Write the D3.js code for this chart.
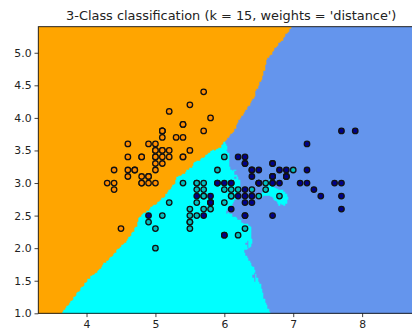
<!DOCTYPE html>
<html><head><meta charset="utf-8">
<script src="https://cdn.jsdelivr.net/npm/d3@7"></script>
<style>html,body{margin:0;padding:0;background:#fff;overflow:hidden}</style>
</head><body>
<script>
// Iris dataset, first two features (sepal length, sepal width) and class
const sepalLength = [5.1,4.9,4.7,4.6,5.0,5.4,4.6,5.0,4.4,4.9,5.4,4.8,4.8,4.3,5.8,5.7,5.4,5.1,5.7,5.1,5.4,5.1,4.6,5.1,4.8,5.0,5.0,5.2,5.2,4.7,4.8,5.4,5.2,5.5,4.9,5.0,5.5,4.9,4.4,5.1,5.0,4.5,4.4,5.0,5.1,4.8,5.1,4.6,5.3,5.0,
7.0,6.4,6.9,5.5,6.5,5.7,6.3,4.9,6.6,5.2,5.0,5.9,6.0,6.1,5.6,6.7,5.6,5.8,6.2,5.6,5.9,6.1,6.3,6.1,6.4,6.6,6.8,6.7,6.0,5.7,5.5,5.5,5.8,6.0,5.4,6.0,6.7,6.3,5.6,5.5,5.5,6.1,5.8,5.0,5.6,5.7,5.7,6.2,5.1,5.7,
6.3,5.8,7.1,6.3,6.5,7.6,4.9,7.3,6.7,7.2,6.5,6.4,6.8,5.7,5.8,6.4,6.5,7.7,7.7,6.0,6.9,5.6,7.7,6.3,6.7,7.2,6.2,6.1,6.4,7.2,7.4,7.9,6.4,6.3,6.1,7.7,6.3,6.4,6.0,6.9,6.7,6.9,5.8,6.8,6.7,6.7,6.3,6.5,6.2,5.9];
const sepalWidth = [3.5,3.0,3.2,3.1,3.6,3.9,3.4,3.4,2.9,3.1,3.7,3.4,3.0,3.0,4.0,4.4,3.9,3.5,3.8,3.8,3.4,3.7,3.6,3.3,3.4,3.0,3.4,3.5,3.4,3.2,3.1,3.4,4.1,4.2,3.1,3.2,3.5,3.6,3.0,3.4,3.5,2.3,3.2,3.5,3.8,3.0,3.8,3.2,3.7,3.3,
3.2,3.2,3.1,2.3,2.8,2.8,3.3,2.4,2.9,2.7,2.0,3.0,2.2,2.9,2.9,3.1,3.0,2.7,2.2,2.5,3.2,2.8,2.5,2.8,2.9,3.0,2.8,3.0,2.9,2.6,2.4,2.4,2.7,2.7,3.0,3.4,3.1,2.3,3.0,2.5,2.6,3.0,2.6,2.3,2.7,3.0,2.9,2.9,2.5,2.8,
3.3,2.7,3.0,2.9,3.0,3.0,2.5,2.9,2.5,3.6,3.2,2.7,3.0,2.5,2.8,3.2,3.0,3.8,2.6,2.2,3.2,2.8,2.8,2.7,3.3,3.2,2.8,3.0,2.8,3.0,2.8,3.8,2.8,2.8,2.6,3.0,3.4,3.1,3.0,3.1,3.1,3.1,2.7,3.2,3.3,3.0,2.5,3.0,3.4,3.0];
const species = [].concat(Array(50).fill(0), Array(50).fill(1), Array(50).fill(2));
const xTicks = [4,5,6,7,8];
const yTicks = [1.0,1.5,2.0,2.5,3.0,3.5,4.0,4.5,5.0];
const nNeighbors = 15;
const meshStep = 0.02;
const lightColors = ["#FFA500","#00FFFF","#6495ED"];  // orange, cyan, cornflowerblue
const boldColors = ["#FF8C00","#00BFBF","#00008B"];   // darkorange, c, darkblue
const titleText = "3-Class classification (k = 15, weights = 'distance')";

(function () {
const W = 412, H = 334;
const xMin = d3.min(sepalLength) - 1, xMax = d3.max(sepalLength) + 1;
const yMin = d3.min(sepalWidth) - 1, yMax = d3.max(sepalWidth) + 1;
const mLeft = 38.3, mTop = 26.7, mBottom = 313.3;
const pxPerUnit = 68.9;
const mRight = mLeft + (xMax - xMin) * pxPerUnit;

const x = d3.scaleLinear().domain([xMin, xMax]).range([mLeft, mRight]);
const y = d3.scaleLinear().domain([yMin, yMax]).range([mBottom, mTop]);

// KNN (distance weighted) prediction
function predict(px, py) {
  const d = sepalLength.map((v, i) => [Math.hypot(v - px, sepalWidth[i] - py), i]);
  d.sort((a, b) => a[0] - b[0] || a[1] - b[1]);
  const nn = d.slice(0, nNeighbors);
  const votes = [0,0,0];
  if (nn.some(e => e[0] === 0)) {
    nn.forEach(e => { if (e[0] === 0) votes[species[e[1]]] += 1; });
  } else {
    nn.forEach(e => { votes[species[e[1]]] += 1 / e[0]; });
  }
  let best = 0;
  for (let c = 1; c < 3; c++) if (votes[c] > votes[best]) best = c;
  return best;
}

const nx = Math.round((xMax - xMin) / meshStep), ny = Math.round((yMax - yMin) / meshStep);
const grid = new Int8Array(nx * ny).fill(-1);
function cls(ix, iy) {
  ix = Math.max(0, Math.min(nx - 1, ix)); iy = Math.max(0, Math.min(ny - 1, iy));
  const k = iy * nx + ix;
  if (grid[k] < 0) grid[k] = predict(xMin + ix * meshStep, yMin + iy * meshStep);
  return grid[k];
}

const plotW = Math.ceil(Math.min(mRight, W) - mLeft), plotH = Math.ceil(mBottom - mTop);
const canvas = document.createElement("canvas");
canvas.width = plotW; canvas.height = plotH;
const ctx = canvas.getContext("2d");
const img = ctx.createImageData(plotW, plotH);
const rgb = lightColors.map(c => d3.rgb(c));
for (let j = 0; j < plotH; j++) {
  const dy = y.invert(mTop + j + 0.5);
  const iy = Math.round((dy - yMin) / meshStep);
  for (let i = 0; i < plotW; i++) {
    const dx = x.invert(mLeft + i + 0.5);
    const ix = Math.round((dx - xMin) / meshStep);
    const c = rgb[cls(ix, iy)];
    const o = (j * plotW + i) * 4;
    img.data[o] = c.r; img.data[o+1] = c.g; img.data[o+2] = c.b; img.data[o+3] = 255;
  }
}
ctx.putImageData(img, 0, 0);

const svg = d3.select("body").append("svg").attr("width", W).attr("height", H)
  .style("font-family", "DejaVu Sans, sans-serif");

svg.append("image").attr("x", mLeft).attr("y", mTop).attr("width", plotW).attr("height", plotH)
  .attr("preserveAspectRatio", "none").attr("href", canvas.toDataURL());

svg.append("clipPath").attr("id", "clip").append("rect")
  .attr("x", mLeft).attr("y", mTop).attr("width", mRight - mLeft).attr("height", mBottom - mTop);

svg.append("g").attr("clip-path", "url(#clip)").selectAll("circle")
  .data(species.map((s, i) => i)).join("circle")
  .attr("cx", i => x(sepalLength[i])).attr("cy", i => y(sepalWidth[i])).attr("r", 2.75)
  .attr("fill", i => boldColors[species[i]]).attr("stroke", "#111").attr("stroke-width", 1.3);

const xAxis = svg.append("g").attr("transform", `translate(0,${mBottom})`)
  .call(d3.axisBottom(x).tickValues(xTicks).tickFormat(d3.format("d")).tickSize(3.8).tickPadding(3));
const yAxis = svg.append("g").attr("transform", `translate(${mLeft},0)`)
  .call(d3.axisLeft(y).tickValues(yTicks).tickFormat(d3.format(".1f")).tickSize(3.8).tickPadding(3));
[xAxis, yAxis].forEach(a => {
  a.selectAll("text").attr("font-size", 10.8).attr("fill", "#222").attr("font-family", "DejaVu Sans, sans-serif");
  a.selectAll("line").attr("stroke", "#222").attr("stroke-width", 0.85);
  a.select(".domain").remove();
});
// spines
svg.append("rect").attr("x", mLeft).attr("y", mTop).attr("width", mRight - mLeft).attr("height", mBottom - mTop)
  .attr("fill", "none").attr("stroke", "#111").attr("stroke-width", 0.9);

svg.append("text").attr("x", (mLeft + mRight) / 2).attr("y", 20).attr("text-anchor", "middle")
  .attr("font-size", 12.9).attr("fill", "#222").text(titleText);
})();
</script>
</body></html>
